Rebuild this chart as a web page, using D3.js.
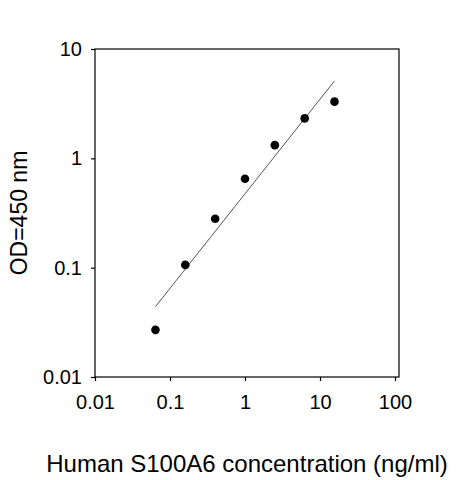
<!doctype html>
<html>
<head>
<meta charset="utf-8">
<script src="https://cdn.jsdelivr.net/npm/d3@7"></script>
<style>body{margin:0;background:#fff}svg{font-family:"Liberation Sans",Arial,sans-serif}</style>
</head>
<body>
<svg id="chart" width="463" height="480"></svg>
<script>
const conc = [0.064, 0.16, 0.4, 1, 2.5, 6.25, 15.6];
const od = [0.027, 0.106, 0.28, 0.65, 1.32, 2.32, 3.3];
const fitX = [0.064, 15.6];
const fitY = [0.044, 5.1];
const xTicks = [0.01, 0.1, 1, 10, 100];
const yTicks = [0.01, 0.1, 1, 10];

const svg = d3.select("#chart");
const L = 95, R = 399, T = 49, B = 377;
const x = d3.scaleLog().domain([0.01, 100]).range([95, 395]);
const y = d3.scaleLog().domain([0.01, 10]).range([B, T]);

svg.append("rect").attr("x", L).attr("y", T).attr("width", R - L).attr("height", B - T)
  .attr("fill", "none").attr("stroke", "#000").attr("stroke-width", 1.2);

const xa = svg.append("g").attr("transform", `translate(0,${B})`)
  .call(d3.axisBottom(x).tickValues(xTicks).tickFormat(d => String(d)).tickSize(4).tickPadding(14));
const ya = svg.append("g").attr("transform", `translate(${L},0)`)
  .call(d3.axisLeft(y).tickValues(yTicks).tickFormat(d => String(d)).tickSize(4).tickPadding(9));
[xa, ya].forEach(a => {
  a.select(".domain").remove();
  a.selectAll("line").attr("stroke", "#000").attr("stroke-width", 1.2);
  a.selectAll("text").attr("font-size", 20).attr("fill", "#000").attr("font-family", "Liberation Sans, Arial, sans-serif");
});

svg.append("line").attr("x1", x(fitX[0])).attr("y1", y(fitY[0]))
  .attr("x2", x(fitX[1])).attr("y2", y(fitY[1])).attr("stroke", "#555").attr("stroke-width", 1);

svg.append("g").selectAll("circle").data(conc).join("circle")
  .attr("cx", d => x(d)).attr("cy", (d, i) => y(od[i])).attr("r", 4.3).attr("fill", "#000");

svg.append("text").attr("x", 247).attr("y", 472).attr("text-anchor", "middle")
  .attr("font-size", 24).text("Human S100A6 concentration (ng/ml)");
svg.append("text").attr("transform", "translate(27,213) rotate(-90)").attr("text-anchor", "middle")
  .attr("font-size", 23).text("OD=450 nm");
</script>
</body>
</html>
